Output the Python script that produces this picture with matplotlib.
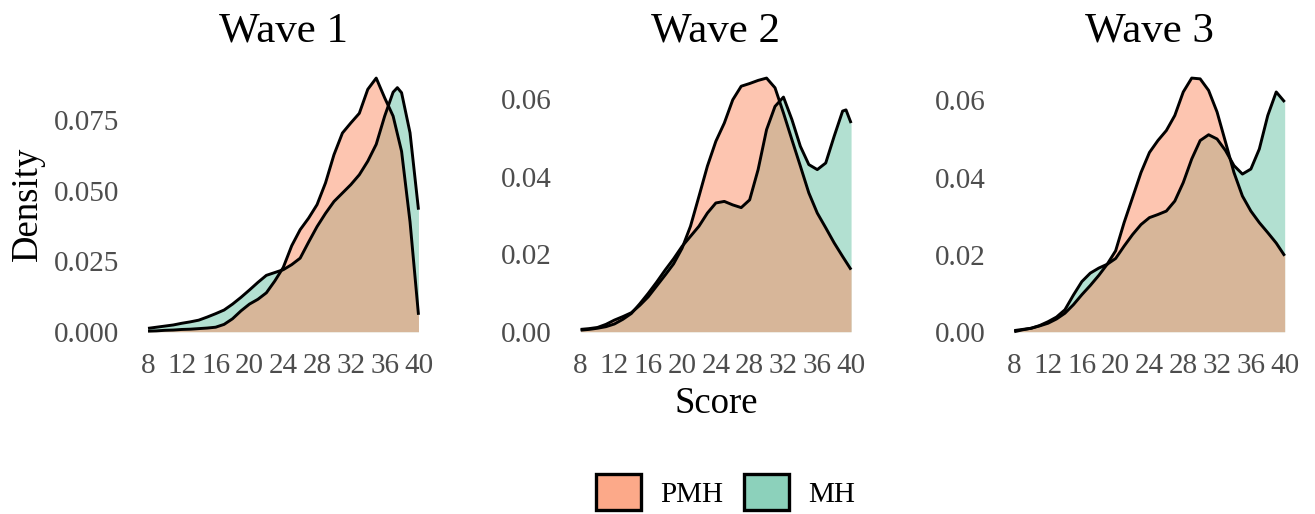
import numpy as np
import matplotlib
matplotlib.use("Agg")
import matplotlib.pyplot as plt
from matplotlib.patches import Patch
from matplotlib.colors import to_rgba

plt.rcParams['font.family'] = ['Liberation Serif', 'DejaVu Serif']

# density curves, one pair per wave
waves = ['Wave 1', 'Wave 2', 'Wave 3']
groups = ['PMH', 'MH']
colors = {'PMH': '#FC8D62', 'MH': '#66C2A5'}

score = list(range(8, 41))

w1_pmh_x = score
w1_pmh = [0.0002, 0.0003, 0.0005, 0.0006, 0.0008, 0.0009, 0.0011, 0.0013, 0.0016, 0.0026,
          0.0046, 0.0074, 0.0098, 0.0115, 0.0138, 0.0180, 0.0228, 0.0305, 0.0362, 0.0403,
          0.0451, 0.0528, 0.0628, 0.0705, 0.0741, 0.0775, 0.0860, 0.0900, 0.0830, 0.0765,
          0.0640, 0.0390, 0.0060]
w1_mh_x = score[:30] + [37.5] + score[30:]
w1_mh = [0.0012, 0.0016, 0.0020, 0.0024, 0.0030, 0.0035, 0.0041, 0.0052, 0.0064, 0.0077,
         0.0098, 0.0122, 0.0148, 0.0175, 0.0200, 0.0210, 0.0220, 0.0238, 0.0261, 0.0318,
         0.0373, 0.0420, 0.0462, 0.0492, 0.0522, 0.0557, 0.0605, 0.0665, 0.0765, 0.0850,
         0.0866, 0.0848, 0.0706, 0.0433]

w2_pmh_x = score
w2_pmh = [0.0006, 0.0008, 0.0011, 0.0019, 0.0030, 0.0039, 0.0049, 0.0068, 0.0090, 0.0118,
          0.0146, 0.0175, 0.0215, 0.0272, 0.0349, 0.0427, 0.0491, 0.0538, 0.0598, 0.0633,
          0.0640, 0.0648, 0.0654, 0.0629, 0.0564, 0.0495, 0.0427, 0.0358, 0.0306, 0.0268,
          0.0229, 0.0194, 0.0160]
w2_mh_x = score[:32] + [39.4] + score[32:]
w2_mh = [0.0004, 0.0006, 0.0009, 0.0013, 0.0020, 0.0032, 0.0047, 0.0072, 0.0099, 0.0128,
         0.0159, 0.0188, 0.0220, 0.0246, 0.0272, 0.0306, 0.0332, 0.0336, 0.0327, 0.0320,
         0.0340, 0.0418, 0.0521, 0.0581, 0.0605, 0.0547, 0.0478, 0.0431, 0.0418, 0.0435,
         0.0504, 0.0569, 0.0572, 0.0538]

w3_pmh_x = score
w3_pmh = [0.0000, 0.0005, 0.0009, 0.0015, 0.0022, 0.0033, 0.0048, 0.0070, 0.0096, 0.0120,
          0.0146, 0.0175, 0.0210, 0.0283, 0.0348, 0.0413, 0.0465, 0.0496, 0.0522, 0.0561,
          0.0622, 0.0658, 0.0656, 0.0626, 0.0570, 0.0492, 0.0413, 0.0352, 0.0313, 0.0283,
          0.0257, 0.0230, 0.0197]
w3_mh_x = score
w3_mh = [0.0003, 0.0006, 0.0009, 0.0016, 0.0026, 0.0038, 0.0057, 0.0095, 0.0130, 0.0152,
         0.0165, 0.0175, 0.0190, 0.0222, 0.0252, 0.0278, 0.0296, 0.0304, 0.0313, 0.0339,
         0.0387, 0.0448, 0.0496, 0.0511, 0.0500, 0.0470, 0.0431, 0.0409, 0.0422, 0.0474,
         0.0561, 0.0622, 0.0596]

data = [{'PMH': (w1_pmh_x, w1_pmh), 'MH': (w1_mh_x, w1_mh)},
        {'PMH': (w2_pmh_x, w2_pmh), 'MH': (w2_mh_x, w2_mh)},
        {'PMH': (w3_pmh_x, w3_pmh), 'MH': (w3_mh_x, w3_mh)}]
yticks = [[0, 0.025, 0.05, 0.075], [0, 0.02, 0.04, 0.06], [0, 0.02, 0.04, 0.06]]
yfmt = ['{:.3f}', '{:.2f}', '{:.2f}']
xticks = list(range(8, 41, 4))

W, H = 1315, 514
fig = plt.figure(figsize=(W / 100, H / 100), dpi=100)
lefts = [134.5, 567.1, 1000.7]
axw = 297.5
bottom_px, axh = 344.4, 279

for i, wave in enumerate(waves):
    ax = fig.add_axes([lefts[i] / W, 1 - bottom_px / H, axw / W, axh / H])
    # MH first, PMH on top (ggplot group order)
    for g in ['MH', 'PMH']:
        x, y = data[i][g]
        ax.fill_between(x, 0, y, color=colors[g], alpha=0.5, lw=0)
        ax.plot(x, y, color='black', lw=2.1, solid_capstyle='butt', solid_joinstyle='round')
    m = max(max(data[i]['PMH'][1]), max(data[i]['MH'][1]))
    ax.set_ylim(-0.05 * m, 1.05 * m)
    ax.set_xlim(6.4, 41.6)
    ax.set_xticks(xticks)
    ax.set_xticklabels([str(t) for t in xticks])
    ax.set_yticks(yticks[i])
    ax.set_yticklabels([yfmt[i].format(t) for t in yticks[i]])
    ax.tick_params(length=0, labelsize=21, labelcolor='#4D4D4D')
    ax.tick_params(axis='y', pad=11)
    ax.tick_params(axis='x', pad=6.5)
    for s in ax.spines.values():
        s.set_visible(False)
    ax.set_title(wave, fontsize=31, pad=17)

fig.text(716.5 / W, 1 - 413 / H, 'Score', fontsize=26.5, ha='center', va='baseline')
fig.text(27.5 / W, 1 - 204 / H, 'Density', fontsize=26.5, rotation=90, ha='center', va='center')

handles = [Patch(facecolor=to_rgba(colors[g], 0.75), edgecolor='black', lw=2.4) for g in groups]
fig.legend(handles, groups, loc='center', bbox_to_anchor=(725.5 / W, 1 - 492 / H),
           ncol=2, frameon=False, fontsize=21, handlelength=1.55, handleheight=1.55,
           handletextpad=0.65, columnspacing=0.72, borderpad=0)

fig.savefig('out.png', dpi=100)
